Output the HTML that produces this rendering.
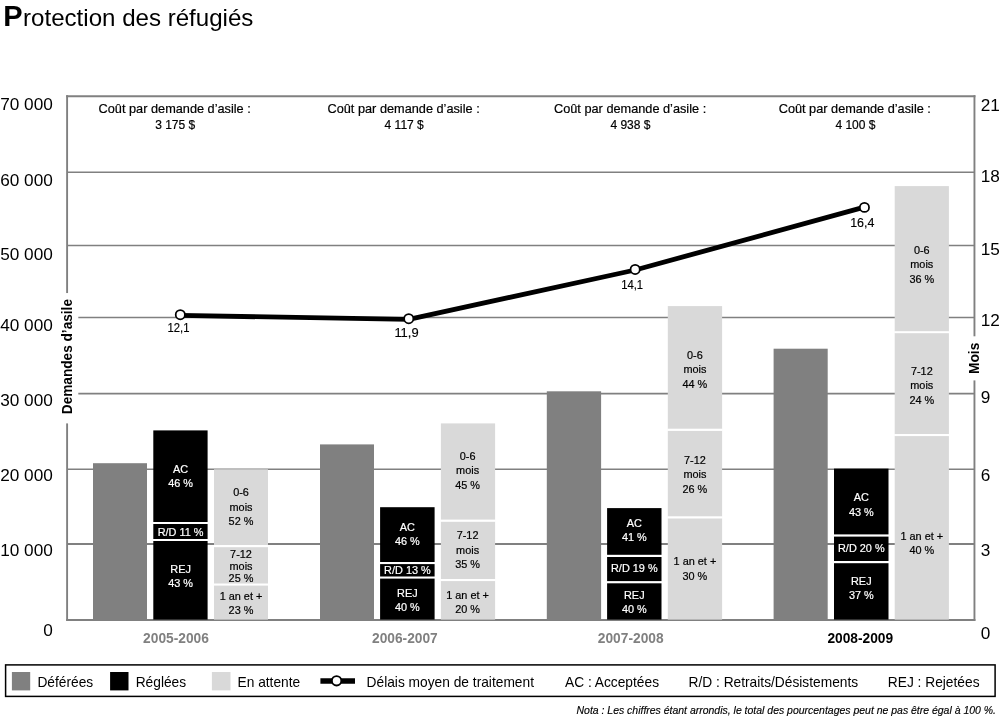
<!DOCTYPE html>
<html lang="fr"><head><meta charset="utf-8"><title>Protection des réfugiés</title>
<style>html,body{margin:0;padding:0;background:#fff}svg{display:block}text{font-family:"Liberation Sans",sans-serif;fill:#000}.ax{font-size:17.2px}.bl{font-size:10.9px;text-anchor:middle;stroke:#000;stroke-width:.2px}.w{fill:#fff;stroke:#fff}.lg{font-size:13.75px}.ct{font-size:12.6px;text-anchor:middle;stroke:#000;stroke-width:.2px}.pv{font-size:12.2px;text-anchor:middle;stroke:#000;stroke-width:.15px}.yr{font-size:13.75px;font-weight:bold;text-anchor:middle}</style></head><body>
<svg width="1000" height="717" viewBox="0 0 1000 717">
<rect width="1000" height="717" fill="#fff"/>
<text x="3.2" y="26.2" font-size="24.1"><tspan font-size="29" font-weight="bold">P</tspan><tspan dx="0.5">rotection des réfugiés</tspan></text>
<line x1="67" y1="172.25" x2="974.45" y2="172.25" stroke="#808080" stroke-width="1.6"/>
<line x1="67" y1="245.5" x2="974.45" y2="245.5" stroke="#808080" stroke-width="1.6"/>
<line x1="67" y1="317.5" x2="974.45" y2="317.5" stroke="#808080" stroke-width="1.6"/>
<line x1="67" y1="393.65" x2="974.45" y2="393.65" stroke="#808080" stroke-width="1.6"/>
<line x1="67" y1="469.15" x2="974.45" y2="469.15" stroke="#808080" stroke-width="1.5"/>
<line x1="67" y1="544.0" x2="974.45" y2="544.0" stroke="#808080" stroke-width="1.85"/>
<line x1="66.2" y1="96.2" x2="975.4" y2="96.2" stroke="#808080" stroke-width="2"/>
<line x1="66.2" y1="619.9" x2="975.4" y2="619.9" stroke="#808080" stroke-width="2"/>
<line x1="67.1" y1="95.2" x2="67.1" y2="293.1" stroke="#808080" stroke-width="1.9"/>
<line x1="67.1" y1="423.4" x2="67.1" y2="620.9" stroke="#808080" stroke-width="1.9"/>
<line x1="974.45" y1="95.2" x2="974.45" y2="336.3" stroke="#808080" stroke-width="1.9"/>
<line x1="974.45" y1="380.4" x2="974.45" y2="620.9" stroke="#808080" stroke-width="1.9"/>
<rect x="60" y="293.4" width="18.3" height="129.4" fill="#fff"/>
<text class="ax" x="52.8" y="110.4" text-anchor="end">70 000</text>
<text class="ax" x="52.8" y="185.7" text-anchor="end">60 000</text>
<text class="ax" x="52.8" y="259.59999999999997" text-anchor="end">50 000</text>
<text class="ax" x="52.8" y="330.7" text-anchor="end">40 000</text>
<text class="ax" x="52.8" y="405.8" text-anchor="end">30 000</text>
<text class="ax" x="52.8" y="480.9" text-anchor="end">20 000</text>
<text class="ax" x="52.8" y="556.3000000000001" text-anchor="end">10 000</text>
<text class="ax" x="52.8" y="636.0" text-anchor="end">0</text>
<text class="ax" x="980.8" y="111">21</text>
<text class="ax" x="980.8" y="181.7">18</text>
<text class="ax" x="980.8" y="254.7">15</text>
<text class="ax" x="980.8" y="326.2">12</text>
<text class="ax" x="980.8" y="402.7">9</text>
<text class="ax" x="980.8" y="480.6">6</text>
<text class="ax" x="980.8" y="555.8">3</text>
<text class="ax" x="980.8" y="639.1">0</text>
<text transform="translate(72.4 356.6) rotate(-90) scale(1 1.08)" font-size="13.65" font-weight="bold" text-anchor="middle">Demandes d’asile</text>
<text transform="translate(979.0 358.4) rotate(-90) scale(1 1.1)" font-size="13.8" font-weight="bold" text-anchor="middle">Mois</text>
<rect x="93" y="463.2" width="54" height="156.4" fill="#808080"/>
<rect x="153.3" y="430.4" width="54.3" height="189.2" fill="#000"/>
<rect x="152.8" y="522" width="55.3" height="2" fill="#fff"/>
<rect x="152.8" y="539" width="55.3" height="2" fill="#fff"/>
<rect x="214" y="469.3" width="54" height="150.3" fill="#d9d9d9"/>
<rect x="213.5" y="545" width="55" height="2.2" fill="#fff"/>
<rect x="213.5" y="583.5" width="55" height="2.1" fill="#fff"/>
<text class="bl w" x="180.6" y="473">AC</text>
<text class="bl w" x="180.6" y="487.4">46 %</text>
<text class="bl w" x="180.6" y="535.8">R/D 11 %</text>
<text class="bl w" x="180.6" y="573">REJ</text>
<text class="bl w" x="180.6" y="587.4">43 %</text>
<text class="bl" x="241" y="496">0-6</text>
<text class="bl" x="241" y="510.6">mois</text>
<text class="bl" x="241" y="525.2">52 %</text>
<text class="bl" x="241" y="557.6">7-12</text>
<text class="bl" x="241" y="569.6">mois</text>
<text class="bl" x="241" y="581.6">25 %</text>
<text class="bl" x="241" y="600">1 an et +</text>
<text class="bl" x="241" y="614.4">23 %</text>
<rect x="320" y="444.4" width="54" height="175.2" fill="#808080"/>
<rect x="380.1" y="507.2" width="54.5" height="112.4" fill="#000"/>
<rect x="379.6" y="562" width="55.5" height="2.1" fill="#fff"/>
<rect x="379.6" y="576.5" width="55.5" height="2.1" fill="#fff"/>
<rect x="440.9" y="423.4" width="54.2" height="196.2" fill="#d9d9d9"/>
<rect x="440.4" y="519.6" width="55.2" height="2.2" fill="#fff"/>
<rect x="440.4" y="579" width="55.2" height="2.1" fill="#fff"/>
<text class="bl w" x="407.4" y="530.6">AC</text>
<text class="bl w" x="407.4" y="544.5">46 %</text>
<text class="bl w" x="407.4" y="574.3">R/D 13 %</text>
<text class="bl w" x="407.4" y="596.6">REJ</text>
<text class="bl w" x="407.4" y="611.4">40 %</text>
<text class="bl" x="467.6" y="459.5">0-6</text>
<text class="bl" x="467.6" y="473.8">mois</text>
<text class="bl" x="467.6" y="488.7">45 %</text>
<text class="bl" x="467.6" y="539.4">7-12</text>
<text class="bl" x="467.6" y="553.9">mois</text>
<text class="bl" x="467.6" y="568.3">35 %</text>
<text class="bl" x="467.6" y="598.6">1 an et +</text>
<text class="bl" x="467.6" y="613">20 %</text>
<rect x="546.8" y="391.3" width="54.3" height="228.3" fill="#808080"/>
<rect x="607.1" y="508.1" width="54.4" height="111.5" fill="#000"/>
<rect x="606.6" y="554.8" width="55.4" height="2.2" fill="#fff"/>
<rect x="606.6" y="581.1" width="55.4" height="2.2" fill="#fff"/>
<rect x="667.8" y="306.1" width="54.3" height="313.5" fill="#d9d9d9"/>
<rect x="667.3" y="428.7" width="55.3" height="2.2" fill="#fff"/>
<rect x="667.3" y="516.3" width="55.3" height="2.2" fill="#fff"/>
<text class="bl w" x="634.3" y="527">AC</text>
<text class="bl w" x="634.3" y="541.3">41 %</text>
<text class="bl w" x="634.3" y="572.3">R/D 19 %</text>
<text class="bl w" x="634.3" y="598.6">REJ</text>
<text class="bl w" x="634.3" y="613">40 %</text>
<text class="bl" x="694.9" y="358.7">0-6</text>
<text class="bl" x="694.9" y="373.1">mois</text>
<text class="bl" x="694.9" y="387.8">44 %</text>
<text class="bl" x="694.9" y="463.6">7-12</text>
<text class="bl" x="694.9" y="478">mois</text>
<text class="bl" x="694.9" y="492.8">26 %</text>
<text class="bl" x="694.9" y="565.1">1 an et +</text>
<text class="bl" x="694.9" y="579.6">30 %</text>
<rect x="773.6" y="348.7" width="54.1" height="270.9" fill="#808080"/>
<rect x="834" y="468.6" width="54.5" height="151.0" fill="#000"/>
<rect x="833.5" y="534.4" width="55.5" height="2.2" fill="#fff"/>
<rect x="833.5" y="561" width="55.5" height="2.2" fill="#fff"/>
<rect x="894.7" y="186.1" width="54.2" height="433.5" fill="#d9d9d9"/>
<rect x="894.2" y="331.2" width="55.2" height="2.0" fill="#fff"/>
<rect x="894.2" y="434.0" width="55.2" height="2.1" fill="#fff"/>
<text class="bl w" x="861.3" y="501.2">AC</text>
<text class="bl w" x="861.3" y="515.7">43 %</text>
<text class="bl w" x="861.3" y="552.2">R/D 20 %</text>
<text class="bl w" x="861.3" y="584.9">REJ</text>
<text class="bl w" x="861.3" y="599.4">37 %</text>
<text class="bl" x="921.8" y="253.7">0-6</text>
<text class="bl" x="921.8" y="268.1">mois</text>
<text class="bl" x="921.8" y="282.6">36 %</text>
<text class="bl" x="921.8" y="374.6">7-12</text>
<text class="bl" x="921.8" y="389.1">mois</text>
<text class="bl" x="921.8" y="404.0">24 %</text>
<text class="bl" x="921.8" y="539.5">1 an et +</text>
<text class="bl" x="921.8" y="553.9">40 %</text>
<text class="ct" x="174.7" y="112.5" textLength="152.2" lengthAdjust="spacingAndGlyphs">Coût par demande d’asile :</text>
<text class="ct" x="175.2" y="128.5" style="font-size:12px">3 175 $</text>
<text class="ct" x="403.6" y="112.5" textLength="152.2" lengthAdjust="spacingAndGlyphs">Coût par demande d’asile :</text>
<text class="ct" x="404.2" y="128.5" style="font-size:12px">4 117 $</text>
<text class="ct" x="630.1" y="112.5" textLength="152.2" lengthAdjust="spacingAndGlyphs">Coût par demande d’asile :</text>
<text class="ct" x="630.4" y="128.5" style="font-size:12px">4 938 $</text>
<text class="ct" x="854.8" y="112.5" textLength="152.2" lengthAdjust="spacingAndGlyphs">Coût par demande d’asile :</text>
<text class="ct" x="855.4" y="128.5" style="font-size:12px">4 100 $</text>
<polyline fill="none" stroke="#000" stroke-width="4.85" stroke-linejoin="round" points="180.3,315.4 408.8,319.4 635.2,270.0 864.4,207.2"/>
<circle cx="180.3" cy="314.7" r="4.6" fill="#fff" stroke="#000" stroke-width="1.75"/>
<circle cx="408.75" cy="318.65" r="4.6" fill="#fff" stroke="#000" stroke-width="1.75"/>
<circle cx="635.15" cy="269.45" r="4.6" fill="#fff" stroke="#000" stroke-width="1.75"/>
<circle cx="864.45" cy="207.4" r="4.6" fill="#fff" stroke="#000" stroke-width="1.75"/>
<text class="pv" x="178.55" y="331.8" textLength="22.0" lengthAdjust="spacingAndGlyphs">12,1</text>
<text class="pv" x="406.5" y="337" textLength="24.2" lengthAdjust="spacingAndGlyphs">11,9</text>
<text class="pv" x="632.15" y="288.7" textLength="22.0" lengthAdjust="spacingAndGlyphs">14,1</text>
<text class="pv" x="862.3" y="226.9" textLength="24.2" lengthAdjust="spacingAndGlyphs">16,4</text>
<text class="yr" x="176.0" y="643.2" style="fill:#808080">2005-2006</text>
<text class="yr" x="404.9" y="643.2" style="fill:#808080">2006-2007</text>
<text class="yr" x="630.7" y="643.2" style="fill:#808080">2007-2008</text>
<text class="yr" x="860.3" y="643.2" style="fill:#000">2008-2009</text>
<rect x="5.6" y="664.9" width="989.5" height="31.5" fill="#fff" stroke="#000" stroke-width="1.5"/>
<rect x="11.9" y="672" width="18.3" height="18.4" fill="#808080"/>
<rect x="110.1" y="672" width="18.4" height="18.4" fill="#000"/>
<rect x="211.9" y="672" width="18.6" height="18.4" fill="#d9d9d9"/>
<line x1="320.4" y1="681.0" x2="355" y2="681.0" stroke="#000" stroke-width="5.3"/>
<circle cx="336.6" cy="680.8" r="4.7" fill="#fff" stroke="#000" stroke-width="1.8"/>
<text class="lg" x="37.4" y="686.7">Déférées</text>
<text class="lg" x="135.7" y="686.7">Réglées</text>
<text class="lg" x="237.5" y="686.7">En attente</text>
<text class="lg" x="366.6" y="686.7">Délais moyen de traitement</text>
<text class="lg" x="565" y="686.7">AC : Acceptées</text>
<text class="lg" x="688.5" y="686.7">R/D : Retraits/Désistements</text>
<text class="lg" x="887.8" y="686.7">REJ : Rejetées</text>
<text x="996" y="714.1" font-size="10.5" font-style="italic" stroke="#000" stroke-width=".15" text-anchor="end" textLength="419.5" lengthAdjust="spacingAndGlyphs">Nota : Les chiffres étant arrondis, le total des pourcentages peut ne pas être égal à 100 %.</text>
</svg></body></html>
